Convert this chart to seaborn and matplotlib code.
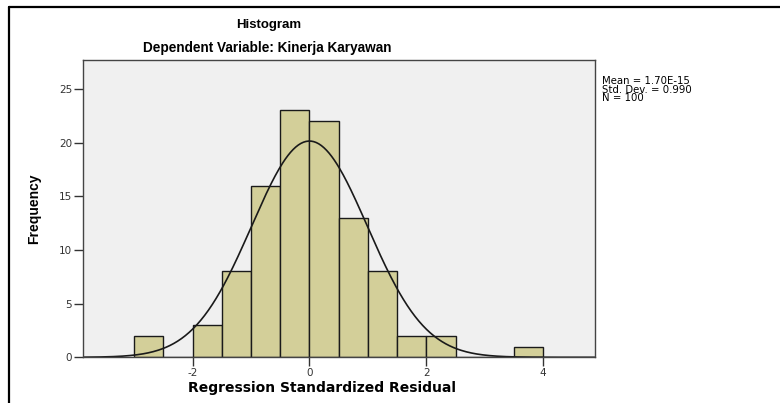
import numpy as np
import seaborn as sns
import matplotlib.pyplot as plt
from matplotlib.lines import Line2D

# Histogram of regression standardized residuals
bin_edges = [-3.0, -2.5, -2.0, -1.5, -1.0, -0.5, 0.0, 0.5, 1.0, 1.5, 2.0, 2.5, 3.0, 3.5, 4.0]
counts = [2, 0, 3, 8, 16, 23, 22, 13, 8, 2, 2, 0, 0, 1]
mean_val = 1.70e-15
std_val = 0.990
n_obs = 100
x_ticks = [-2, 0, 2, 4]
y_ticks = [0, 5, 10, 15, 20, 25]

bin_centers = [(a + b) / 2 for a, b in zip(bin_edges[:-1], bin_edges[1:])]

sns.set_style("white")
plt.rcParams['font.family'] = ['Liberation Sans', 'DejaVu Sans']
plt.rcParams['axes.unicode_minus'] = False
plt.rcParams['text.color'] = 'black'
plt.rcParams['axes.labelcolor'] = 'black'

fig = plt.figure(figsize=(7.8, 4.03), dpi=100)
ax = fig.add_axes([0.106, 0.1134, 0.6564, 0.7377])
ax.set_facecolor('#f0f0f0')

sns.histplot(x=bin_centers, weights=counts, bins=bin_edges, color='#d3cf99',
             edgecolor='#1a1a1a', linewidth=1.0, alpha=1, ax=ax)

# normal curve scaled to counts
xlim = (-3.88, 4.88)
xs = np.linspace(xlim[0], xlim[1], 400)
binw = bin_edges[1] - bin_edges[0]
ys = n_obs * binw / (std_val * np.sqrt(2 * np.pi)) * np.exp(-0.5 * ((xs - mean_val) / std_val) ** 2)
ax.plot(xs, ys, color='#1a1a1a', linewidth=1.2)

ax.set_xlim(*xlim)
ax.set_ylim(0, 27.7)
ax.set_xticks(x_ticks)
ax.set_yticks(y_ticks)
ax.tick_params(axis='both', direction='out', length=6.5, width=1, color='#333333',
               labelsize=7.5, labelcolor='#333333', pad=1, bottom=True, left=True)
for lab in ax.get_xticklabels() + ax.get_yticklabels():
    lab.set_family('DejaVu Sans')
for s in ax.spines.values():
    s.set_color('#444444')
    s.set_linewidth(1.0)
ax.set_xlabel('')
ax.set_ylabel('Frequency', fontsize=10, fontweight='bold', labelpad=13)

fig.text(0.413, 0.037, 'Regression Standardized Residual', ha='center', va='center',
         fontsize=10, fontweight='bold', family='DejaVu Sans')
fig.text(0.344, 0.938, 'Histogram', ha='center', va='center', fontsize=9.5, fontweight='bold')
fig.text(0.343, 0.881, 'Dependent Variable: Kinerja Karyawan', ha='center', va='center',
         fontsize=9.8, fontweight='bold')
fig.text(0.772, 0.812, 'Mean = 1.70E-15\nStd. Dev. = 0.990\nN = 100', ha='left', va='top',
         fontsize=7.3, linespacing=0.85, family='DejaVu Sans')

# outer frame (left and top)
fig.add_artist(Line2D([0.0115, 0.0115], [0, 0.983], color='black', linewidth=1.6,
                      transform=fig.transFigure))
fig.add_artist(Line2D([0.0115, 1], [0.983, 0.983], color='black', linewidth=1.6,
                      transform=fig.transFigure))

fig.savefig('out.png', dpi=100)
